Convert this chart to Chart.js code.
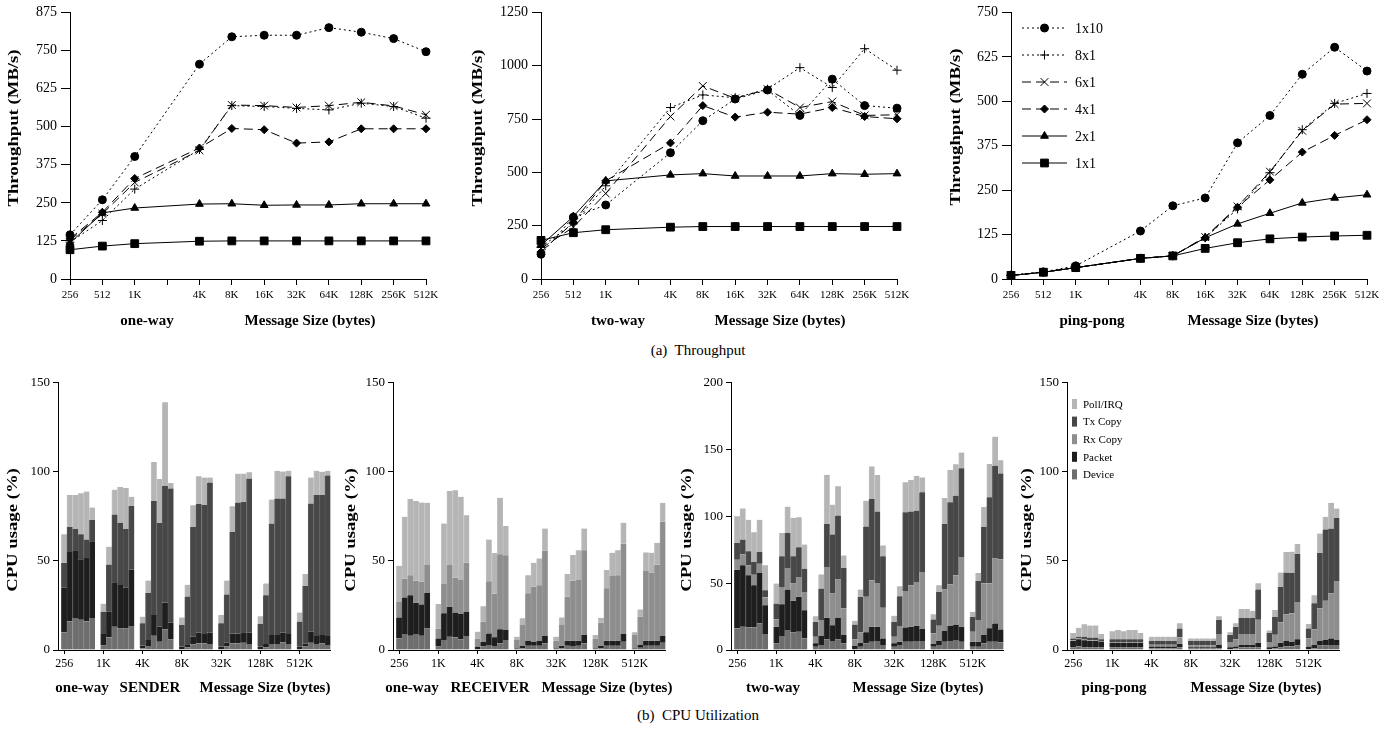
<!DOCTYPE html>
<html>
<head>
<meta charset="utf-8">
<title>Throughput and CPU Utilization</title>
<script src="https://cdn.jsdelivr.net/npm/chart.js@4.4.1/dist/chart.umd.min.js"></script>
<style>
  html, body { margin: 0; padding: 0; background: #fff; }
  body { width: 1396px; height: 731px; position: relative; overflow: hidden;
         font-family: "Liberation Serif", "Times New Roman", serif; color: #000; }
  canvas { position: absolute; }
  .caption { position: absolute; font-size: 15px; white-space: nowrap; transform: translateX(-50%); }
</style>
</head>
<body>
<div class="caption" style="left:698px; top:342px;">(a)&nbsp; Throughput</div>
<div class="caption" style="left:698px; top:707px;">(b)&nbsp; CPU Utilization</div>
<script>
// ---------------- Throughput (MB/s) by message size ----------------
// 2K has a tick on the axis but no measurement.
const sizeLabels = ['256', '512', '1K', '', '4K', '8K', '16K', '32K', '64K', '128K', '256K', '512K'];

const oneWay_1x10 = [145, 260, 402, null, 705, 795, 800, 800, 825, 810, 789, 746];
const oneWay_8x1  = [121, 192, 295, null, 425, 569, 566, 560, 555, 577, 566, 528];
const oneWay_6x1  = [127, 214, 317, null, 422, 571, 569, 563, 569, 580, 568, 539];
const oneWay_4x1  = [132, 219, 330, null, 430, 494, 490, 446, 450, 493, 493, 493];
const oneWay_2x1  = [118, 217, 233, null, 246, 247, 242, 243, 243, 247, 247, 247];
const oneWay_1x1  = [96, 108, 116, null, 124, 125, 125, 125, 125, 125, 125, 125];

const twoWay_1x10 = [116, 290, 347, null, 592, 742, 844, 886, 767, 937, 813, 801];
const twoWay_8x1  = [150, 259, 437, null, 804, 863, 850, 890, 991, 898, 1080, 979];
const twoWay_6x1  = [143, 243, 401, null, 762, 905, 847, 890, 804, 832, 767, 770];
const twoWay_4x1  = [127, 266, 460, null, 638, 813, 759, 782, 773, 804, 762, 751];
const twoWay_2x1  = [158, 293, 460, null, 488, 494, 483, 483, 483, 494, 491, 494];
const twoWay_1x1  = [181, 217, 231, null, 243, 246, 246, 246, 246, 246, 246, 246];

const pingPong_1x10 = [11, 20, 37, null, 135, 206, 228, 383, 460, 576, 652, 585];
const pingPong_8x1  = [10, 19, 32, null, 58, 65, 116, 197, 299, 420, 494, 522];
const pingPong_6x1  = [10, 19, 32, null, 58, 65, 118, 204, 302, 417, 492, 494];
const pingPong_4x1  = [10, 19, 32, null, 58, 65, 116, 202, 279, 357, 404, 448];
const pingPong_2x1  = [10, 19, 32, null, 58, 65, 116, 155, 185, 214, 228, 237];
const pingPong_1x1  = [10, 19, 32, null, 58, 65, 86, 102, 113, 118, 121, 123];

// ---------------- CPU usage (%) ----------------
// Seven message sizes, six configurations each (1x1, 2x1, 4x1, 6x1, 8x1, 1x10).
const cpuGroups = ['256', '1K', '4K', '8K', '32K', '128K', '512K'];

// one-way, sender side (no receive copy)
const sendDevice = [[10,16,18,17,16,18],[2.5,7,13,12,12,13.5],[1,2.2,8,4.7,11.6,6],[0.5,1.5,3.2,3.7,3.7,3.4],[0.5,1.9,3.7,3.7,4.1,3.4],[0.5,1.5,3.4,3.4,4.3,3.4],[0.5,1.9,4.1,3.4,3.7,2.8]];
const sendPacket = [[25,39,38,34,36,43],[6.5,14.5,25,24.5,23,31.5],[1.5,3.4,11.6,8.3,15,9.3],[1.4,1.7,4.3,6,5.3,6.3],[1.4,2.2,5.6,5.6,5.8,6.3],[1.4,1.9,5,5,5.4,5.6],[1.4,1.8,6.2,4.5,4.7,5.1]];
const sendTxCopy = [[14,14,12,14,10,12],[12.5,26.5,38,35,33,36],[12.5,26.4,64,58.4,65.5,75.4],[12.1,26.8,61.5,72.3,72.5,84.3],[13.1,27.1,57.1,73.5,73.3,86.6],[12.7,27.4,62.6,76.6,75.3,88.6],[14.1,32.3,71.9,79.1,78.6,90.1]];
const sendPoll   = [[16,18,19,23,27,7],[4.5,10,14,20,23,5],[3.7,7,22,24.6,47,3.1],[4.3,6.6,12.3,15.6,15.3,2.8],[4.6,7.8,14.3,16.2,15.8,3.5],[4.4,6.6,13.5,15.6,15.2,3],[5,6.6,14.6,13.6,13,2.6]];

// one-way, receiver side (no transmit copy)
const recvDevice = [[6.5,9,8,9,8,12],[1.9,5.6,7.5,7,6,7.9],[0.5,1.9,2.8,2.2,3.7,5.6],[0.4,0.9,2.4,2.4,2.4,3.7],[0.4,0.9,2.4,2.2,2.4,3.7],[0.4,0.9,2.4,2.4,2.4,4.7],[0.4,1.3,2.4,2.4,2.4,4.1]];
const recvPacket = [[11.8,20.5,22.8,17.5,17.6,20],[4.6,15,16.8,14,14.2,13.6],[1.4,2.8,6.5,4.9,7.9,5.6],[0.5,1.3,2.6,2.3,2.6,4.2],[0.5,1.5,2.8,3,2.8,4.7],[0.5,1.3,2.8,2.8,2.8,4.3],[0.5,1.5,2.8,2.8,2.8,3.8]];
const recvRxCopy = [[8.7,10.5,11.2,12.4,12.7,15.7],[5.5,16.4,23.4,19.7,19.1,27.5],[4.6,11.2,29.3,24.6,42.1,42],[4.7,11.8,26.8,30.8,31.4,47.8],[4.3,11.6,24.7,33.7,34.1,47.6],[5.6,13.1,29.4,36.3,36.8,50.8],[7.5,15.9,39.1,38.2,42.8,64.1]];
const recvPoll   = [[20.3,34.8,42.7,44.8,44.5,34.9],[13.8,34,41.6,49,46.7,26.7],[3.8,8.7,23.4,22.8,31.7,16.4],[1.9,3.8,10.2,13.5,15,12.5],[2.3,4.3,12.7,14.4,16.7,12.2],[1.9,2.8,10.3,13.1,14,11.6],[1.5,4.1,10.5,11.2,12.2,10.6]];

// two-way
const twoDevice = [[16.1,17.4,16.9,16.9,19.9,11.9],[5,10.4,14.9,13.2,13.7,8.7],[2.5,3.7,8,6.7,8,5],[0.7,2.5,5,6.2,6.7,3.7],[2.5,3.7,6.2,6.2,6.7,6.7],[2.5,3.7,6.2,6.7,7.5,6.2],[2.5,2.5,5,6.2,6.2,5.7]];
const twoPacket = [[44,46,39,31.5,37.7,21.6],[12.4,23.9,30.3,23.6,26.1,21.1],[2.5,6.7,16.1,11.9,16.3,6.2],[2.3,3,8.2,11.2,10.7,5],[2.5,2.5,10.7,11.2,11.4,9.4],[2,3,8,11.2,11.6,11.2],[3.7,3.7,6.2,10,13.7,9.7]];
const twoRxCopy = [[7.5,8.2,7.5,8,7,5.8],[5.5,12.9,16.2,12.9,14.9,13.7],[4.9,12,38,23.6,28.4,19.9],[5,7.7,26.6,34.8,32.8,22.9],[4.9,11.7,27.3,31,32.8,42.3],[7.9,11.4,31,31.3,36.8,52.2],[7.5,16.2,38.6,33.6,48.5,52.4]];
const twoTxCopy = [[12.6,11.1,10.6,9.4,8.7,5.4],[11.9,22.9,26.3,20.4,22.3,17.4],[11.2,23.6,32.3,44.3,47.9,30.3],[11.1,26.6,52.6,60.8,53.4,38.5],[11.2,22.3,58.9,55.2,53.4,59.6],[10.5,25.4,49.2,61.4,59.6,66.5],[11.2,29.3,42.2,64.6,69.6,64.4]];
const twoPoll   = [[19.9,23.3,23.4,22.4,24.1,18.7],[14.9,17.4,19.6,28.8,22.4,18.1],[4.2,10.6,36.8,22.3,21.9,9.4],[2.8,5.4,19.4,24.4,27.3,8.2],[4.5,7.5,22.4,23.6,26.1,11.2],[3.9,4.9,19.4,24.1,23.6,11.7],[3.7,6,15,24.9,21.7,9.9]];

// ping-pong
const pingDevice = [[1.5,2,1.5,1.5,1.5,1.5],[1.5,1.5,1.5,1.5,1.5,1.5],[1,1,1,1,1,1.5],[0.8,0.8,0.8,0.8,0.8,1],[0.5,1,1.5,1.5,1.5,1.5],[0.5,1,1.5,2,2,2.5],[0.5,1,2.5,2.5,2.8,2.8]];
const pingPacket = [[3.5,4,4,3.5,3.5,3],[2.5,2.5,2.5,2.5,2.5,2.5],[1,1,1,1,1,2],[0.7,0.7,0.7,0.7,0.7,2],[1,1,1.5,1.5,1.5,2.5],[1,1,2.5,3,2.7,3.5],[1.4,1.8,2.5,3.1,3.7,2.8]];
const pingRxCopy = [[0.5,0.5,0.5,0.5,0.5,0.5],[0.5,0.5,0.5,0.5,0.5,0.5],[1,1,1,1,1,3.5],[1,1,1,1,1,6],[3,4,6,6,6,13],[3,6.5,11.5,15,16,21],[4.6,8.8,18.4,22.1,25.3,33.1]];
const pingTxCopy = [[1,1,1.5,1.5,1.5,1],[1.5,1.5,1.5,1.5,1.5,1.5],[2,2,2,2,2,5],[2.5,2.5,2.5,2.5,2.5,8],[4,7,9,9,9,17],[5,10,20,23.5,22.5,27],[5.6,14.6,31.2,40,36.4,35.5]];
const pingPoll   = [[3,5,7,6.7,6.8,3],[4.5,5.2,4.5,5.2,5.2,3.5],[2.5,2.5,2.5,2.5,2.5,3],[1.5,1.5,1.5,1.5,1.5,2],[1.5,2,5,5,4,3.5],[1.5,4,8,11.5,12,5.5],[2.5,4.6,10.8,7.1,14.4,5.2]];

// ---------------- styling ----------------
Chart.defaults.font.family = '"Liberation Serif", "Times New Roman", serif';
Chart.defaults.color = '#000';

const lineStyles = {
  '1x10': { dash: [2, 3], point: 'circle',   radius: 4 },
  '8x1':  { dash: [2, 3], point: 'cross',    radius: 4.5 },
  '6x1':  { dash: [9, 5], point: 'crossRot', radius: 5.5 },
  '4x1':  { dash: [9, 5], point: 'rectRot',  radius: 4 },
  '2x1':  { dash: [],     point: 'triangle', radius: 4.5 },
  '1x1':  { dash: [],     point: 'rect',     radius: 5.5 }
};

const cpuLayers = [
  { label: 'Device',   color: '#6e6e6e', edge: '#7b7b7b' },
  { label: 'Packet',   color: '#1e1e1e', edge: '#353535' },
  { label: 'Rx Copy',  color: '#8e8e8e', edge: '#9b9b9b' },
  { label: 'Tx Copy',  color: '#474747', edge: '#575757' },
  { label: 'Poll/IRQ', color: '#b5b5b5', edge: '#c2c2c2' }
];

const BOLD = 'bold 15px "Liberation Serif", "Times New Roman", serif';

// Free text placed in page coordinates (axis titles, panel names).
const panelText = {
  id: 'panelText',
  afterDraw(chart, args, opts) {
    const ctx = chart.ctx;
    const ox = opts.originX || 0, oy = opts.originY || 0;
    (opts.items || []).forEach(it => {
      ctx.save();
      ctx.font = it.font || BOLD;
      ctx.fillStyle = '#000';
      ctx.textAlign = 'center';
      ctx.textBaseline = 'middle';
      ctx.translate(it.x - ox, it.y - oy);
      if (it.vertical) ctx.rotate(-Math.PI / 2);
      if (it.stretch) ctx.scale(it.stretch, 1);
      ctx.fillText(it.text, 0, 0);
      ctx.restore();
    });
  }
};

// Legend with a line sample and its marker, one row per series.
const lineKey = {
  id: 'lineKey',
  afterDraw(chart, args, opts) {
    if (!opts.show) return;
    const ctx = chart.ctx;
    const ox = opts.originX, oy = opts.originY;
    chart.data.datasets.forEach((ds, i) => {
      const y = opts.top + i * opts.gap - oy;
      const x0 = opts.x0 - ox, x1 = opts.x1 - ox;
      ctx.save();
      ctx.strokeStyle = '#000';
      ctx.fillStyle = '#000';
      ctx.lineWidth = 1;
      ctx.setLineDash(ds.borderDash || []);
      ctx.beginPath();
      ctx.moveTo(x0, y);
      ctx.lineTo(x1, y);
      ctx.stroke();
      ctx.setLineDash([]);
      Chart.helpers.drawPoint(ctx, { pointStyle: ds.pointStyle, radius: ds.pointRadius, rotation: 0, borderWidth: 1 }, (x0 + x1) / 2, y);
      ctx.font = '14px "Liberation Serif", "Times New Roman", serif';
      ctx.textAlign = 'left';
      ctx.textBaseline = 'middle';
      ctx.fillText(ds.label, opts.textX - ox, y + 1);
      ctx.restore();
    });
  }
};

// Legend of stacked components, top layer first.
const stackKey = {
  id: 'stackKey',
  afterDraw(chart, args, opts) {
    if (!opts.show) return;
    const ctx = chart.ctx;
    const ox = opts.originX, oy = opts.originY;
    const sets = chart.data.datasets.slice().reverse();
    sets.forEach((ds, i) => {
      const y = opts.top + i * opts.gap - oy;
      ctx.save();
      ctx.fillStyle = ds.backgroundColor;
      ctx.fillRect(opts.swatchX - ox, y - 5, 5, 10);
      ctx.fillStyle = '#000';
      ctx.font = '11px "Liberation Serif", "Times New Roman", serif';
      ctx.textAlign = 'left';
      ctx.textBaseline = 'middle';
      ctx.fillText(ds.label, opts.textX - ox, y + 1);
      ctx.restore();
    });
  }
};

function addCanvas(f) {
  const c = document.createElement('canvas');
  c.width = f.width;
  c.height = f.height;
  c.style.left = f.left + 'px';
  c.style.top = f.top + 'px';
  c.style.width = f.width + 'px';
  c.style.height = f.height + 'px';
  document.body.appendChild(c);
  return c;
}

const plainNumber = v => String(v);

function throughputChart(f, series, yMax, yStep, items, key) {
  const datasets = series.map(([name, values]) => {
    const st = lineStyles[name];
    return {
      label: name, data: values, spanGaps: true, tension: 0,
      borderColor: '#000', backgroundColor: '#000', borderWidth: 1, borderDash: st.dash,
      pointStyle: st.point, pointRadius: st.radius, pointBorderWidth: 1,
      pointBackgroundColor: '#000', pointBorderColor: '#000'
    };
  });
  new Chart(addCanvas(f), {
    type: 'line',
    data: { labels: sizeLabels, datasets },
    options: {
      responsive: false, animation: false, devicePixelRatio: 1,
      layout: { autoPadding: false,
        padding: { top: f.plotTop - f.top, right: f.left + f.width - f.plotRight, left: 0, bottom: 0 } },
      plugins: {
        legend: { display: false }, tooltip: { enabled: false },
        panelText: { items, originX: f.left, originY: f.top },
        lineKey: Object.assign({ show: !!key, originX: f.left, originY: f.top }, key || {}),
        stackKey: { show: false }
      },
      scales: {
        x: {
          type: 'category', offset: false,
          afterFit: s => { s.height = f.top + f.height - f.plotBottom; },
          grid: { display: true, drawOnChartArea: false, drawTicks: true, tickLength: 6, color: '#000', lineWidth: 1 },
          border: { display: true, color: '#000', width: 1 },
          ticks: { autoSkip: false, maxRotation: 0, minRotation: 0, font: { size: 11 }, padding: 4 }
        },
        y: {
          min: 0, max: yMax,
          afterFit: s => { s.width = f.axisX - f.left; },
          grid: { display: true, drawOnChartArea: false, drawTicks: true, tickLength: 9, color: '#000', lineWidth: 1 },
          border: { display: true, color: '#000', width: 1 },
          ticks: { stepSize: yStep, font: { size: 14 }, padding: 4, callback: plainNumber }
        }
      }
    },
    plugins: [panelText, lineKey, stackKey]
  });
}

// Each configuration gets its own slot; one empty slot separates message sizes.
function toSlots(groups) {
  const pts = [];
  groups.forEach((g, gi) => g.forEach((v, bi) => pts.push({ x: gi * 7 + bi, y: v })));
  return pts;
}

function cpuChart(f, layers, yMax, yStep, items, key) {
  const datasets = [];
  cpuLayers.forEach((ly, i) => {
    if (!layers[i]) return;
    datasets.push({
      label: ly.label, data: toSlots(layers[i]),
      backgroundColor: ly.color, borderColor: ly.edge,
      borderWidth: { left: 1, right: 0, top: 0, bottom: 0 }, borderSkipped: false,
      barPercentage: 1, categoryPercentage: 1
    });
  });
  new Chart(addCanvas(f), {
    type: 'bar',
    data: { datasets },
    options: {
      responsive: false, animation: false, devicePixelRatio: 1,
      layout: { autoPadding: false,
        padding: { top: f.plotTop - f.top, right: f.left + f.width - f.plotRight, left: 0, bottom: 0 } },
      plugins: {
        legend: { display: false }, tooltip: { enabled: false },
        panelText: { items, originX: f.left, originY: f.top },
        lineKey: { show: false },
        stackKey: Object.assign({ show: !!key, originX: f.left, originY: f.top }, key || {})
      },
      scales: {
        x: {
          type: 'linear', stacked: true, offset: false, min: -1.1, max: 47.5,
          afterBuildTicks: s => { s.ticks = cpuGroups.map((g, i) => ({ value: i * 7 })); },
          afterFit: s => { s.height = f.top + f.height - f.plotBottom; },
          grid: { display: true, offset: false, drawOnChartArea: false, drawTicks: true, tickLength: 4, color: '#000', lineWidth: 1 },
          border: { display: true, color: '#000', width: 1 },
          ticks: { autoSkip: false, maxRotation: 0, minRotation: 0, font: { size: 12 }, padding: 3,
                   callback: v => cpuGroups[Math.round(v / 7)] }
        },
        y: {
          stacked: true, min: 0, max: yMax,
          afterFit: s => { s.width = f.axisX - f.left; },
          grid: { display: true, drawOnChartArea: false, drawTicks: true, tickLength: 5, color: '#000', lineWidth: 1 },
          border: { display: true, color: '#000', width: 1 },
          ticks: { stepSize: yStep, font: { size: 13 }, padding: 3, callback: plainNumber }
        }
      }
    },
    plugins: [panelText, lineKey, stackKey]
  });
}

// ---------------- panels ----------------
const yTitle = (text, x, y) => ({ text, x, y, vertical: true, stretch: 1.29, font: 'bold 14.5px "Liberation Serif", "Times New Roman", serif' });
const label = (text, x, y) => ({ text, x, y });

throughputChart(
  { left: 0, top: 0, width: 462, height: 345, axisX: 70, plotTop: 10, plotBottom: 279, plotRight: 426 },
  [['1x10', oneWay_1x10], ['8x1', oneWay_8x1], ['6x1', oneWay_6x1], ['4x1', oneWay_4x1], ['2x1', oneWay_2x1], ['1x1', oneWay_1x1]],
  875, 125,
  [yTitle('Throughput (MB/s)', 14, 128), label('one-way', 147, 321), label('Message Size (bytes)', 310, 321)]
);

throughputChart(
  { left: 462, top: 0, width: 465, height: 345, axisX: 541, plotTop: 10, plotBottom: 279, plotRight: 897 },
  [['1x10', twoWay_1x10], ['8x1', twoWay_8x1], ['6x1', twoWay_6x1], ['4x1', twoWay_4x1], ['2x1', twoWay_2x1], ['1x1', twoWay_1x1]],
  1250, 250,
  [yTitle('Throughput (MB/s)', 478, 128), label('two-way', 618, 321), label('Message Size (bytes)', 780, 321)]
);

throughputChart(
  { left: 927, top: 0, width: 469, height: 345, axisX: 1011, plotTop: 10, plotBottom: 279, plotRight: 1367 },
  [['1x10', pingPong_1x10], ['8x1', pingPong_8x1], ['6x1', pingPong_6x1], ['4x1', pingPong_4x1], ['2x1', pingPong_2x1], ['1x1', pingPong_1x1]],
  750, 125,
  [yTitle('Throughput (MB/s)', 956, 127), label('ping-pong', 1092, 321), label('Message Size (bytes)', 1253, 321)],
  { x0: 1022, x1: 1067, textX: 1075, top: 28, gap: 27 }
);

cpuChart(
  { left: 0, top: 372, width: 338, height: 328, axisX: 58, plotTop: 382, plotBottom: 650, plotRight: 330.6 },
  [sendDevice, sendPacket, null, sendTxCopy, sendPoll],
  150, 50,
  [yTitle('CPU usage (%)', 13, 530), label('one-way', 82, 688), label('SENDER', 150, 688), label('Message Size (bytes)', 265, 688)]
);

cpuChart(
  { left: 336, top: 372, width: 336, height: 328, axisX: 393, plotTop: 382, plotBottom: 650, plotRight: 665.6 },
  [recvDevice, recvPacket, recvRxCopy, null, recvPoll],
  150, 50,
  [yTitle('CPU usage (%)', 351, 530), label('one-way', 412, 688), label('RECEIVER', 490, 688), label('Message Size (bytes)', 607, 688)]
);

cpuChart(
  { left: 672, top: 372, width: 340, height: 328, axisX: 731, plotTop: 382, plotBottom: 650, plotRight: 1003.6 },
  [twoDevice, twoPacket, twoRxCopy, twoTxCopy, twoPoll],
  200, 50,
  [yTitle('CPU usage (%)', 687, 530), label('two-way', 773, 688), label('Message Size (bytes)', 918, 688)]
);

cpuChart(
  { left: 1012, top: 372, width: 384, height: 328, axisX: 1067, plotTop: 382, plotBottom: 650, plotRight: 1339.6 },
  [pingDevice, pingPacket, pingRxCopy, pingTxCopy, pingPoll],
  150, 50,
  [yTitle('CPU usage (%)', 1027, 530), label('ping-pong', 1114, 688), label('Message Size (bytes)', 1256, 688)],
  { swatchX: 1072, textX: 1083, top: 404, gap: 17.6 }
);
</script>
</body>
</html>
